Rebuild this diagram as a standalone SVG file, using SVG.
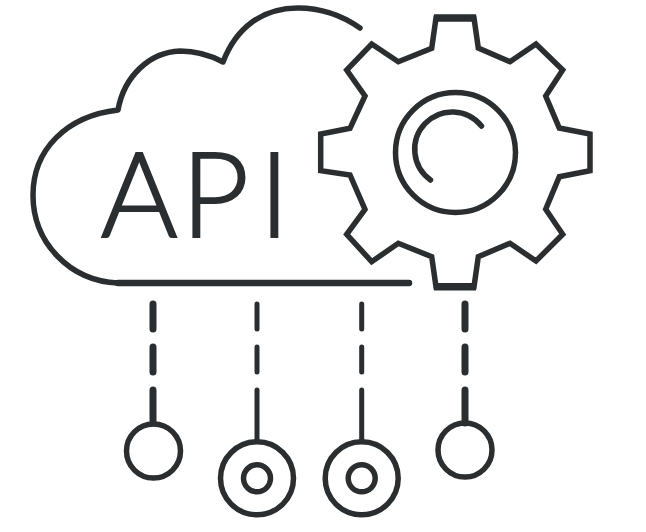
<svg xmlns="http://www.w3.org/2000/svg" width="646" height="532" viewBox="0 0 646 532">
<style>
.l{fill:none;stroke:#2a2e30;stroke-width:5.500;stroke-linejoin:round;stroke-linecap:round}
.t{stroke-width:5}
.w{stroke-width:7}
text{font-family:Lato,"Liberation Sans",sans-serif;font-weight:300;fill:#2a2e30;stroke:#2a2e30;stroke-width:1.800}
</style>
<rect width="646" height="532" fill="#fff"/>
<g id="cloud">
<path class="l" d="M360 28C340 14 320 8 298 8C262 8 236 28 223 62C208 54 195 51 180 51C150 52 124 76 118 110C66 116 33 150 33 195C33 243 70 281 118 283"/>
<path class="l" style="stroke-width:6.500" d="M118 283H409"/>
<text y="236.500" font-size="118" x="100.500 181 259">API</text>
</g>
<g id="gear">
<path class="l" style="stroke-linejoin:miter" d="M436 18H474L478.300 48L510 61.700L536 44L562.700 70L545.700 96L559.300 128L590 134V170.700L559.300 176.700L545.700 209.300L562.700 234.300L536 261L510 243.300L478.300 256.700L474 286.700H436L431.700 256.700L398.300 243.300L371.700 261.700L346.700 234.300L365 209.300L350 175L320.700 170.700V134L350 128.300L365 96L346.700 70L371.700 44L398.300 61.700L431.700 48.300Z"/>
<path class="l" style="stroke-width:7.500;stroke-linecap:butt" d="M434 18H476M434 286.700H476"/>
<circle class="l" cx="455.500" cy="152.500" r="60"/>
<path class="l" d="M481.500 126A37.500 37.500 0 1 0 430.500 180"/>
</g>
<g id="connectors">
<path class="l w" d="M153 304V329M153 347V372M153 390V423"/>
<path class="l t" d="M257 304V329M257 347V372M257 390V441"/>
<path class="l t" d="M361.700 304V329M361.700 347V372M361.700 390V441"/>
<path class="l w" d="M465 304V329M465 347V372M465 390V423"/>
</g>
<g id="node-1"><circle class="l" cx="153.500" cy="451" r="27"/></g>
<g id="node-2"><circle class="l" cx="257" cy="478.300" r="36.500"/><circle class="l" cx="257" cy="478.300" r="13.500"/></g>
<g id="node-3"><circle class="l" cx="361.700" cy="478.300" r="36.500"/><circle class="l" cx="361.700" cy="478.300" r="13.500"/></g>
<g id="node-4"><circle class="l" cx="465" cy="450" r="27"/></g>
</svg>
